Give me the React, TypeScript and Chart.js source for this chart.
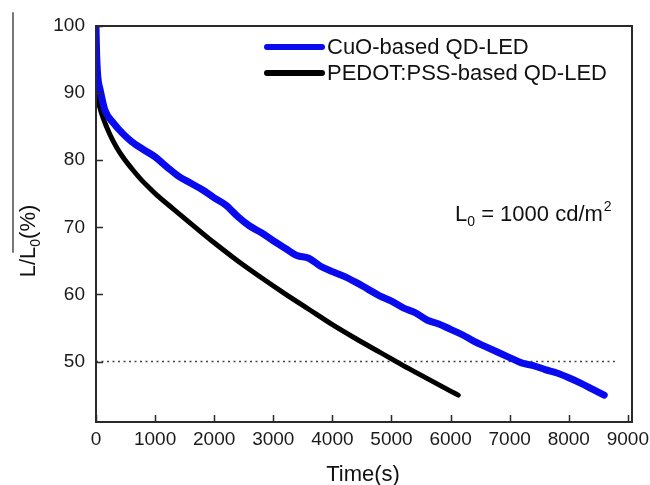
import { useEffect, useRef } from "react";
import { Chart, registerables } from "chart.js";

Chart.register(...registerables);

const cuoTime = [0, 10, 30, 70, 150, 300, 450, 600, 800, 1000, 1200, 1400, 1600, 1800, 2000, 2200, 2400, 2600, 2800, 3000, 3200, 3400, 3600, 3800, 4000, 4200, 4400, 4600, 4800, 5000, 5200, 5400, 5600, 5800, 6000, 6200, 6400, 6600, 6800, 7000, 7200, 7400, 7600, 7800, 8000, 8200, 8400, 8600];
const cuoValues = [100, 96, 92.5, 90.5, 87.5, 85.5, 84.0, 82.8, 81.6, 80.5, 79.0, 77.6, 76.6, 75.6, 74.4, 73.3, 71.6, 70.2, 69.2, 68.0, 66.9, 65.8, 65.4, 64.2, 63.4, 62.7, 61.8, 60.8, 59.8, 59.0, 58.0, 57.3, 56.2, 55.6, 54.8, 54.0, 53.0, 52.2, 51.4, 50.6, 49.8, 49.4, 48.8, 48.3, 47.6, 46.8, 45.9, 45.0];

const pedotTime = [0, 25, 60, 120, 237, 350, 460, 600, 745, 900, 1030, 1300, 1600, 2000, 2400, 2800, 3200, 3600, 4000, 4400, 4800, 5200, 5600, 6000, 6130];
const pedotValues = [90.5, 89.3, 88.0, 86.3, 83.8, 81.9, 80.4, 78.8, 77.3, 75.9, 74.8, 72.8, 70.6, 67.7, 65.0, 62.5, 60.1, 57.8, 55.5, 53.4, 51.4, 49.4, 47.5, 45.6, 45.0];

const seriesNames = ["CuO-based QD-LED", "PEDOT:PSS-based QD-LED"];
const xTicks = [0, 1000, 2000, 3000, 4000, 5000, 6000, 7000, 8000, 9000];
const yTicks = [50, 60, 70, 80, 90, 100];
const referenceLevel = 50;
const referenceSpan = [0, 8780];
const xRange = [0, 9070];
const yRange = [41, 100];

const FONT = "'Liberation Sans', Arial, Helvetica, sans-serif";
const BLUE = "#0a0aee";
const BLACK = "#000000";
const AXIS = "#2a2a2a";

const decorPlugin = {
  id: "decor",
  afterDraw(chart: any) {
    const { ctx } = chart;
    const { left, top, right, bottom } = chart.chartArea;
    const xs = chart.scales.x;
    const ys = chart.scales.y;
    ctx.save();
    // frame
    ctx.strokeStyle = AXIS;
    ctx.lineWidth = 2;
    ctx.strokeRect(left, top, right - left, bottom - top);
    // inside tick marks
    ctx.beginPath();
    xTicks.forEach((v) => {
      const px = Math.round(xs.getPixelForValue(v)) + 0.5;
      ctx.moveTo(px, bottom);
      ctx.lineTo(px, bottom - 7);
    });
    yTicks.forEach((v) => {
      const py = Math.round(ys.getPixelForValue(v)) + 0.5;
      ctx.moveTo(left, py);
      ctx.lineTo(left + 7, py);
    });
    ctx.lineWidth = 1.5;
    ctx.stroke();

    // legend
    const legendX = 267;
    const legendLen = 55;
    const rows = [
      { y: 47, color: BLUE, label: seriesNames[0] },
      { y: 73, color: BLACK, label: seriesNames[1] },
    ];
    rows.forEach((r) => {
      ctx.beginPath();
      ctx.strokeStyle = r.color;
      ctx.lineWidth = 6;
      ctx.lineCap = "round";
      ctx.moveTo(legendX, r.y);
      ctx.lineTo(legendX + legendLen, r.y);
      ctx.stroke();
      ctx.fillStyle = "#111";
      ctx.font = `22px ${FONT}`;
      ctx.textBaseline = "middle";
      ctx.textAlign = "left";
      ctx.fillText(r.label, legendX + legendLen + 5, r.y + 1);
    });

    // annotation L0 = 1000 cd/m2
    ctx.fillStyle = "#111";
    ctx.textBaseline = "alphabetic";
    let ax = 455;
    const ab = 221;
    ctx.font = `22px ${FONT}`;
    ctx.fillText("L", ax, ab);
    ax += ctx.measureText("L").width;
    ctx.font = `14px ${FONT}`;
    ctx.fillText("0", ax, ab + 5);
    ax += ctx.measureText("0").width;
    ctx.font = `22px ${FONT}`;
    const mid = " = 1000 cd/m";
    ctx.fillText(mid, ax, ab);
    ax += ctx.measureText(mid).width;
    ctx.font = `14px ${FONT}`;
    ctx.fillText("2", ax + 1, ab - 10);

    // x title
    ctx.font = `22px ${FONT}`;
    ctx.textAlign = "center";
    ctx.fillText("Time(s)", 363, 481);

    // y title (rotated)
    ctx.save();
    ctx.translate(35, 241);
    ctx.rotate(-Math.PI / 2);
    ctx.textAlign = "left";
    ctx.font = `22px ${FONT}`;
    const p1 = "L/L";
    const w1 = ctx.measureText(p1).width;
    ctx.font = `14px ${FONT}`;
    const w2 = ctx.measureText("0").width;
    ctx.font = `22px ${FONT}`;
    const p3 = "(%)";
    const w3 = ctx.measureText(p3).width;
    let tx = -(w1 + w2 + w3) / 2;
    ctx.fillText(p1, tx, 0);
    tx += w1;
    ctx.font = `14px ${FONT}`;
    ctx.fillText("0", tx, 5);
    tx += w2;
    ctx.font = `22px ${FONT}`;
    ctx.fillText(p3, tx, 0);
    ctx.restore();

    // overline of the y title
    ctx.beginPath();
    ctx.strokeStyle = "#777";
    ctx.lineWidth = 2;
    ctx.moveTo(13, 13);
    ctx.lineTo(13, 252);
    ctx.stroke();

    ctx.restore();
  },
};

export default function App() {
  const ref = useRef<HTMLCanvasElement>(null);
  useEffect(() => {
    const canvas = ref.current;
    if (!canvas) return;
    const chart = new Chart(canvas, {
      type: "line",
      data: {
        datasets: [
          {
            label: seriesNames[0],
            data: cuoTime.map((t, i) => ({ x: t, y: cuoValues[i] })),
            borderColor: BLUE,
            borderWidth: 7,
            pointRadius: 0,
            cubicInterpolationMode: "monotone",
            borderJoinStyle: "round",
            borderCapStyle: "round",
          },
          {
            label: seriesNames[1],
            data: pedotTime.map((t, i) => ({ x: t, y: pedotValues[i] })),
            borderColor: BLACK,
            borderWidth: 5,
            pointRadius: 0,
            cubicInterpolationMode: "monotone",
            borderCapStyle: "round",
          },
          {
            label: "ref",
            data: referenceSpan.map((t) => ({ x: t, y: referenceLevel })),
            borderColor: "#444",
            borderWidth: 1.5,
            borderDash: [2, 3.5],
            pointRadius: 0,
          },
        ],
      },
      options: {
        responsive: false,
        animation: false,
        devicePixelRatio: 1,
        layout: { padding: { left: 0, top: 26, right: 18, bottom: 0 } },
        plugins: { legend: { display: false }, tooltip: { enabled: false } },
        scales: {
          x: {
            type: "linear",
            min: xRange[0],
            max: xRange[1],
            afterFit(s: any) {
              s.height = 63;
              s.paddingLeft = 0;
              s.paddingRight = 0;
            },
            afterBuildTicks(s: any) {
              s.ticks = xTicks.map((v) => ({ value: v }));
            },
            grid: { display: false, drawTicks: false },
            border: { display: false },
            ticks: {
              font: { family: FONT, size: 19 },
              color: "#1a1a1a",
              padding: 6,
              maxRotation: 0,
              autoSkip: false,
              callback: (v: any) => String(v),
            },
          },
          y: {
            type: "linear",
            min: yRange[0],
            max: yRange[1],
            afterFit(s: any) {
              s.width = 96;
              s.paddingTop = 0;
              s.paddingBottom = 0;
            },
            afterBuildTicks(s: any) {
              s.ticks = yTicks.map((v) => ({ value: v }));
            },
            grid: { display: false, drawTicks: false },
            border: { display: false },
            ticks: {
              font: { family: FONT, size: 19 },
              color: "#1a1a1a",
              padding: 11,
              autoSkip: false,
              callback: (v: any) => String(v),
            },
          },
        },
      },
      plugins: [decorPlugin],
    } as any);
    return () => chart.destroy();
  }, []);
  return (
    <div style={{ position: "absolute", left: 0, top: 0, width: 650, height: 485, background: "#fff" }}>
      <canvas ref={ref} width={650} height={485} style={{ display: "block" }} />
    </div>
  );
}
